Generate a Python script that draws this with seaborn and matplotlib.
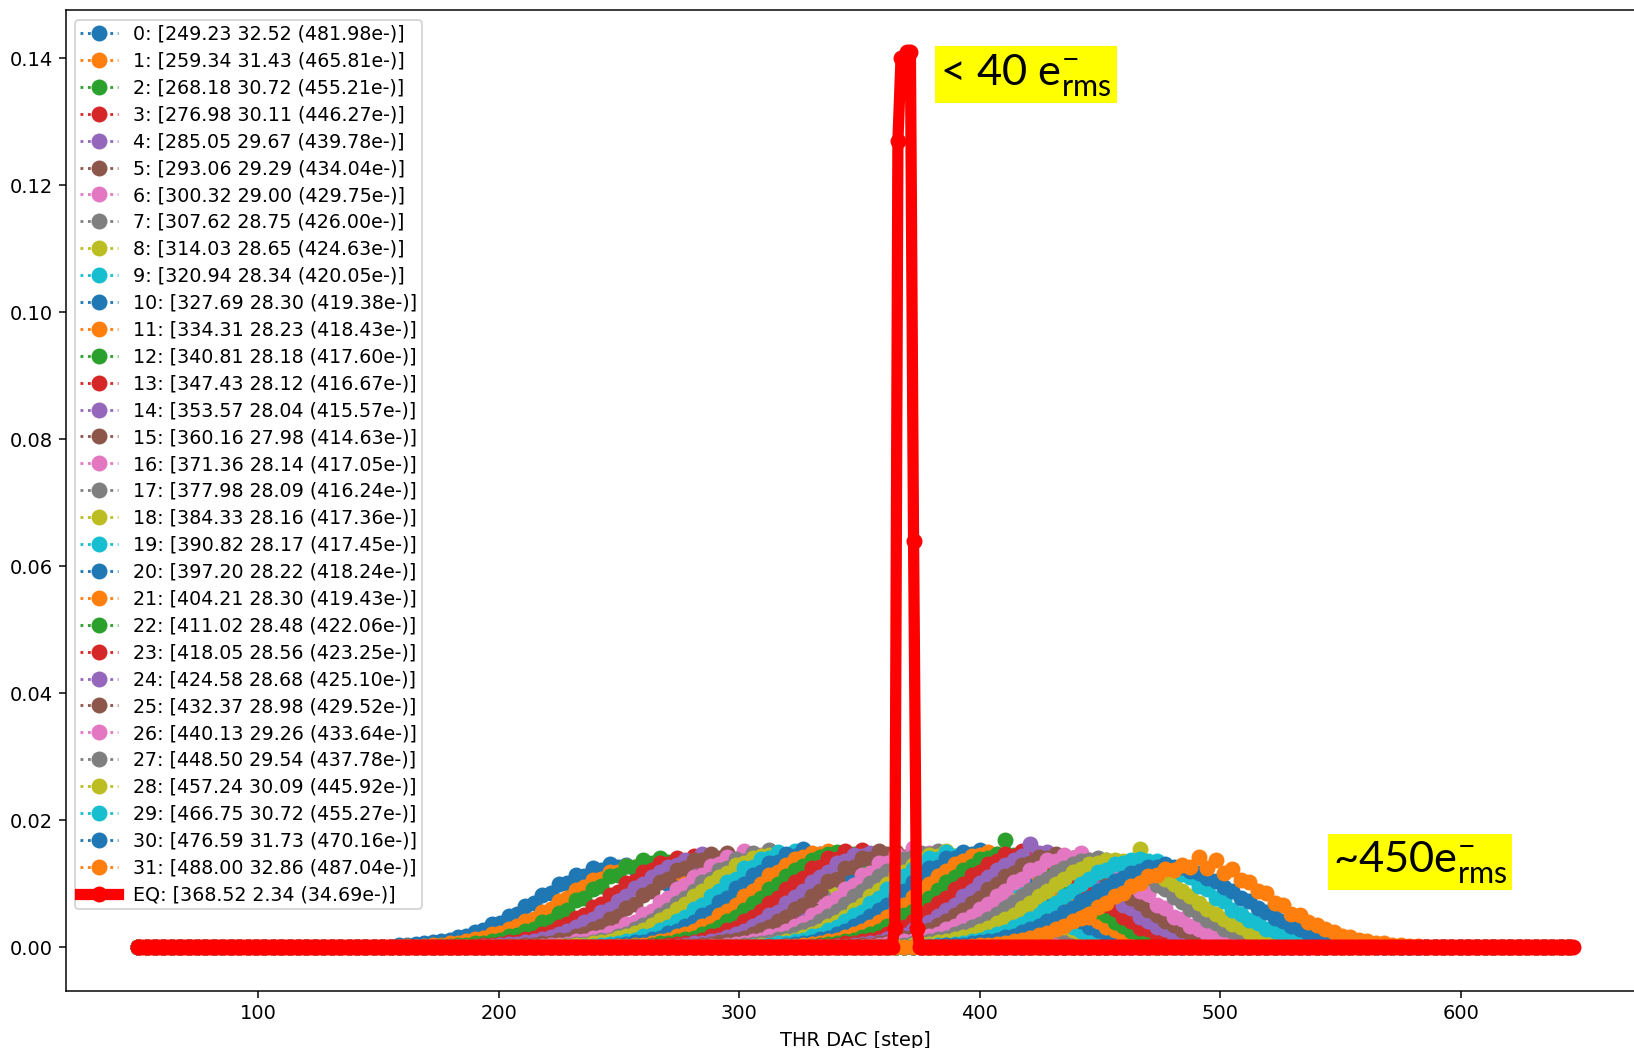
import numpy as np
import matplotlib
matplotlib.use("Agg")
import matplotlib.pyplot as plt
import seaborn as sns

# THR DAC sampling of the per-trim threshold histograms and of the equalised one
trim_dac = np.round(50.0 + 3.5 * np.arange(171), 2)
eq_dac = np.round(50.0 + 1.3 * np.arange(460), 2)

# Fit results per trim setting: mean [step], sigma [step], sigma [e-]
trim_mean = [249.23, 259.34, 268.18, 276.98, 285.05, 293.06, 300.32, 307.62,
             314.03, 320.94, 327.69, 334.31, 340.81, 347.43, 353.57, 360.16,
             371.36, 377.98, 384.33, 390.82, 397.20, 404.21, 411.02, 418.05,
             424.58, 432.37, 440.13, 448.50, 457.24, 466.75, 476.59, 488.00]
trim_sigma = [32.52, 31.43, 30.72, 30.11, 29.67, 29.29, 29.00, 28.75,
              28.65, 28.34, 28.30, 28.23, 28.18, 28.12, 28.04, 27.98,
              28.14, 28.09, 28.16, 28.17, 28.22, 28.30, 28.48, 28.56,
              28.68, 28.98, 29.26, 29.54, 30.09, 30.72, 31.73, 32.86]
trim_noise_e = [481.98, 465.81, 455.21, 446.27, 439.78, 434.04, 429.75, 426.00,
                424.63, 420.05, 419.38, 418.43, 417.60, 416.67, 415.57, 414.63,
                417.05, 416.24, 417.36, 417.45, 418.24, 419.43, 422.06, 423.25,
                425.10, 429.52, 433.64, 437.78, 445.92, 455.27, 470.16, 487.04]

# index of the first non-empty bin of each trim histogram
trim_first_bin = [29, 32, 36, 39, 41, 44, 47, 49, 50, 53, 55, 57, 59, 61, 63, 65,
                  68, 70, 72, 73, 75, 77, 79, 81, 83, 84, 86, 88, 90, 93, 94, 97]

# normalised bin contents (units of 1e-4) from trim_first_bin on; all other bins are empty
trim00 = [1, 1, 3, 3, 5, 6, 8, 10, 11, 16, 18, 24, 27, 36, 38, 49, 52, 65, 69, 82, 86, 99, 101, 113, 112, 124, 122, 131, 126, 130, 123, 125, 113, 112, 100, 97, 85, 81, 68, 63, 52, 49, 38, 35, 27, 24, 18, 16, 11, 10, 6, 7, 3, 4, 2, 1, 1]
trim01 = [2, 1, 2, 4, 4, 7, 6, 10, 13, 14, 20, 22, 29, 33, 42, 45, 56, 60, 73, 77, 90, 94, 106, 108, 119, 118, 128, 126, 133, 124, 127, 119, 118, 107, 105, 94, 90, 77, 73, 60, 56, 45, 41, 33, 29, 22, 20, 14, 13, 8, 7, 5, 4, 2, 2, 1, 1]
trim02 = [2, 2, 3, 4, 6, 6, 10, 11, 17, 19, 26, 29, 39, 42, 54, 59, 74, 78, 92, 96, 112, 114, 128, 126, 137, 133, 141, 134, 136, 126, 128, 114, 111, 97, 93, 78, 73, 60, 54, 43, 38, 29, 26, 19, 17, 11, 10, 7, 5, 3, 3, 2, 1]
trim03 = [1, 2, 4, 4, 5, 8, 8, 13, 15, 21, 24, 32, 36, 46, 51, 63, 68, 82, 87, 101, 104, 119, 121, 133, 131, 140, 136, 143, 131, 133, 120, 119, 104, 102, 88, 84, 70, 64, 54, 46, 38, 31, 24, 21, 15, 12, 8, 7, 5, 4, 2, 2, 1]
trim04 = [2, 2, 3, 5, 5, 8, 9, 13, 16, 21, 26, 31, 39, 44, 55, 60, 73, 81, 93, 99, 111, 118, 127, 129, 138, 135, 146, 136, 139, 128, 126, 116, 109, 98, 91, 79, 72, 60, 53, 44, 36, 31, 24, 19, 16, 12, 9, 6, 5, 4, 2, 2, 1]
trim05 = [2, 2, 3, 4, 6, 7, 11, 12, 18, 21, 29, 33, 44, 49, 61, 68, 82, 88, 102, 108, 122, 125, 138, 137, 146, 141, 149, 138, 139, 126, 123, 108, 104, 88, 83, 68, 62, 49, 43, 33, 29, 21, 18, 12, 11, 7, 6, 4, 3, 2, 1]
trim06 = [1, 2, 4, 4, 5, 9, 9, 14, 16, 23, 26, 36, 40, 52, 57, 71, 77, 92, 98, 111, 114, 128, 131, 142, 139, 151, 140, 145, 133, 134, 117, 116, 98, 96, 80, 75, 60, 56, 43, 39, 29, 26, 18, 15, 11, 9, 6, 5, 3, 2, 2]
trim07 = [2, 1, 3, 5, 5, 8, 11, 12, 17, 21, 28, 35, 41, 51, 58, 70, 78, 89, 102, 108, 121, 124, 139, 136, 148, 142, 153, 141, 141, 128, 127, 111, 108, 91, 86, 71, 65, 52, 45, 36, 29, 22, 19, 13, 10, 8, 5, 4, 3, 2, 1]
trim08 = [2, 2, 3, 4, 7, 8, 10, 14, 17, 23, 27, 35, 43, 49, 60, 68, 81, 88, 101, 111, 117, 129, 133, 141, 143, 145, 147, 137, 136, 125, 121, 109, 101, 92, 78, 70, 58, 51, 41, 35, 27, 23, 16, 14, 9, 8, 6, 4, 3, 2, 2]
trim09 = [2, 2, 4, 5, 6, 10, 11, 17, 19, 27, 31, 41, 48, 60, 66, 81, 88, 103, 108, 124, 127, 139, 141, 150, 145, 151, 140, 140, 127, 124, 108, 104, 88, 82, 67, 60, 47, 42, 31, 28, 19, 17, 11, 10, 6, 5, 3, 2, 2]
trim10 = [1, 2, 3, 5, 8, 8, 13, 15, 22, 25, 34, 39, 51, 56, 71, 77, 93, 99, 114, 118, 133, 134, 147, 144, 155, 143, 147, 133, 132, 117, 113, 98, 92, 76, 71, 56, 51, 39, 34, 24, 22, 15, 13, 8, 8, 4, 4, 2, 1]
trim11 = [2, 2, 4, 4, 7, 10, 11, 17, 20, 25, 33, 38, 50, 57, 66, 80, 88, 99, 113, 119, 129, 139, 142, 149, 146, 152, 141, 141, 128, 125, 109, 105, 89, 83, 67, 62, 47, 43, 30, 28, 19, 17, 11, 9, 7, 5, 3, 2, 2]
trim12 = [2, 1, 3, 6, 6, 9, 13, 15, 21, 26, 31, 42, 47, 59, 69, 78, 92, 100, 112, 122, 128, 138, 142, 146, 150, 144, 146, 135, 131, 119, 113, 100, 91, 79, 68, 57, 50, 39, 33, 25, 20, 15, 12, 9, 7, 5, 4, 2, 2]
trim13 = [2, 2, 4, 5, 7, 8, 12, 17, 19, 27, 30, 41, 48, 57, 70, 77, 91, 102, 109, 124, 127, 141, 139, 151, 143, 153, 139, 142, 125, 126, 107, 106, 86, 84, 65, 62, 46, 43, 30, 29, 18, 18, 11, 10, 6, 5, 3, 3, 1]
trim14 = [1, 2, 4, 6, 6, 10, 11, 16, 21, 25, 33, 39, 50, 56, 69, 79, 88, 103, 110, 119, 132, 135, 145, 144, 149, 148, 141, 139, 128, 123, 112, 100, 92, 78, 70, 56, 50, 38, 34, 24, 22, 14, 13, 9, 6, 5, 3, 2, 2]
trim15 = [2, 2, 3, 5, 8, 9, 12, 15, 21, 27, 31, 42, 47, 60, 67, 81, 88, 104, 108, 125, 126, 141, 139, 152, 146, 150, 142, 138, 131, 120, 114, 99, 93, 77, 71, 55, 51, 37, 34, 24, 21, 15, 12, 10, 6, 5, 4, 2, 1]
trim16 = [2, 1, 4, 5, 6, 10, 11, 17, 19, 26, 33, 38, 51, 56, 70, 78, 92, 98, 114, 117, 133, 133, 146, 141, 156, 143, 148, 133, 133, 118, 114, 97, 93, 76, 71, 55, 52, 38, 35, 24, 22, 14, 13, 8, 8, 4, 4, 2, 2]
trim17 = [2, 2, 3, 5, 7, 8, 13, 15, 20, 27, 31, 41, 49, 57, 68, 80, 89, 101, 112, 120, 128, 139, 142, 148, 147, 151, 141, 140, 127, 125, 108, 105, 88, 83, 66, 61, 47, 42, 31, 27, 20, 17, 11, 10, 7, 4, 4, 2, 1]
trim18 = [1, 2, 4, 4, 7, 9, 12, 16, 20, 25, 34, 39, 48, 59, 66, 80, 90, 100, 113, 119, 130, 136, 145, 143, 152, 144, 147, 135, 130, 122, 110, 103, 89, 81, 69, 58, 50, 40, 32, 27, 20, 16, 12, 9, 7, 5, 4, 2, 2]
trim19 = [2, 2, 3, 6, 6, 10, 11, 17, 19, 27, 31, 41, 50, 56, 70, 77, 92, 99, 112, 123, 127, 140, 139, 150, 144, 149, 143, 138, 132, 119, 115, 98, 94, 77, 70, 57, 50, 39, 32, 26, 20, 16, 12, 9, 7, 5, 3, 3, 1]
trim20 = [2, 1, 4, 5, 7, 8, 13, 15, 21, 25, 33, 39, 49, 58, 67, 80, 88, 103, 108, 124, 126, 141, 140, 150, 146, 153, 139, 142, 127, 125, 108, 105, 89, 81, 69, 59, 48, 41, 31, 27, 21, 15, 13, 8, 7, 5, 4, 2, 2]
trim21 = [2, 2, 3, 5, 6, 10, 11, 16, 20, 26, 32, 40, 48, 59, 67, 79, 91, 100, 112, 120, 131, 136, 144, 145, 150, 147, 142, 138, 129, 123, 110, 102, 90, 80, 68, 59, 48, 41, 31, 27, 19, 17, 11, 10, 6, 5, 4, 2, 1]
trim22 = [1, 2, 4, 5, 7, 9, 12, 16, 21, 25, 33, 39, 50, 57, 69, 78, 90, 102, 110, 122, 128, 139, 141, 146, 168, 145, 147, 136, 131, 120, 113, 100, 91, 79, 69, 57, 50, 39, 33, 25, 21, 16, 12, 9, 7, 5, 3, 2, 2]
trim23 = [2, 2, 3, 6, 6, 10, 12, 15, 21, 26, 32, 41, 48, 58, 69, 78, 92, 99, 113, 119, 131, 135, 146, 143, 151, 145, 146, 136, 131, 119, 112, 101, 89, 80, 67, 60, 47, 42, 30, 28, 19, 17, 11, 10, 6, 5, 3, 2, 2]
trim24 = [2, 1, 4, 5, 7, 8, 13, 16, 19, 27, 31, 40, 49, 58, 67, 80, 89, 101, 111, 121, 129, 138, 143, 163, 148, 150, 141, 139, 128, 124, 109, 104, 88, 82, 67, 61, 47, 42, 31, 28, 19, 17, 11, 10, 6, 5, 3, 2, 2]
trim25 = [2, 2, 3, 4, 6, 8, 10, 14, 16, 23, 27, 35, 42, 51, 58, 70, 78, 91, 99, 112, 117, 129, 132, 142, 140, 147, 143, 141, 135, 128, 120, 111, 99, 91, 78, 70, 58, 51, 41, 35, 27, 22, 17, 13, 10, 8, 6, 4, 3, 2, 2]
trim26 = [1, 2, 3, 5, 5, 9, 9, 14, 17, 21, 29, 33, 43, 49, 60, 68, 81, 88, 102, 108, 121, 124, 137, 136, 145, 141, 148, 137, 139, 125, 123, 108, 104, 88, 83, 67, 62, 48, 44, 33, 29, 21, 18, 13, 10, 8, 6, 4, 3, 2, 1]
trim27 = [2, 2, 3, 4, 6, 7, 9, 13, 15, 21, 25, 31, 36, 45, 52, 62, 71, 81, 90, 101, 107, 118, 124, 131, 135, 138, 141, 137, 136, 129, 125, 116, 109, 98, 91, 79, 71, 60, 53, 43, 38, 29, 26, 19, 17, 11, 10, 6, 5, 4, 2, 2, 1]
trim28 = [2, 1, 3, 5, 5, 8, 9, 13, 16, 19, 26, 30, 38, 44, 51, 62, 70, 81, 89, 100, 107, 118, 123, 131, 133, 138, 137, 136, 132, 155, 123, 118, 107, 100, 89, 81, 70, 60, 52, 45, 36, 31, 24, 20, 15, 12, 9, 7, 5, 4, 2, 2, 1]
trim29 = [2, 2, 3, 4, 5, 7, 10, 12, 16, 21, 24, 31, 36, 45, 51, 62, 70, 81, 88, 100, 107, 118, 122, 131, 133, 137, 139, 135, 135, 128, 125, 115, 110, 97, 92, 78, 72, 59, 53, 43, 38, 29, 26, 19, 17, 11, 10, 7, 5, 4, 3, 2, 1]
trim30 = [1, 2, 3, 3, 4, 6, 8, 9, 12, 16, 18, 24, 28, 34, 41, 46, 55, 61, 72, 78, 89, 95, 104, 109, 117, 120, 126, 126, 131, 126, 126, 120, 117, 109, 104, 95, 89, 78, 72, 61, 55, 46, 41, 34, 28, 23, 20, 14, 13, 9, 7, 6, 4, 3, 2, 2, 1]
trim31 = [1, 1, 2, 3, 4, 5, 7, 10, 11, 15, 19, 22, 28, 33, 41, 46, 53, 63, 69, 80, 86, 97, 101, 112, 113, 123, 121, 130, 127, 142, 124, 138, 117, 123, 106, 103, 89, 86, 70, 67, 53, 50, 39, 35, 28, 24, 18, 16, 12, 10, 7, 6, 4, 3, 2, 2, 1]

trim_counts = [trim00, trim01, trim02, trim03, trim04, trim05, trim06, trim07,
               trim08, trim09, trim10, trim11, trim12, trim13, trim14, trim15,
               trim16, trim17, trim18, trim19, trim20, trim21, trim22, trim23,
               trim24, trim25, trim26, trim27, trim28, trim29, trim30, trim31]

# Equalised matrix
eq_mean, eq_sigma, eq_noise_e = 368.52, 2.34, 34.69
eq_first_bin = 242
eq_counts = [0.003, 0.127, 0.140, 0.140, 0.141, 0.141, 0.064, 0.003]

plt.rcParams["font.size"] = 10.4
plt.rcParams["legend.fontsize"] = 10.15
plt.rcParams["legend.labelspacing"] = 0.415
plt.rcParams["legend.borderpad"] = 0.25

W, H, DPI = 1634, 1048, 135
fig = plt.figure(figsize=(W / DPI, H / DPI), dpi=DPI)
ax = fig.add_axes([65.7 / W, 57.0 / H, 1580.0 / W, 980.6 / H])

palette = sns.color_palette("tab10")
for i, counts in enumerate(trim_counts):
    y = np.zeros(len(trim_dac))
    start = trim_first_bin[i]
    y[start:start + len(counts)] = np.asarray(counts) * 1e-4
    col = palette[i % 10]
    sns.lineplot(x=trim_dac, y=y, ax=ax, color=col, linestyle=":", linewidth=1.5,
                 marker="o", markersize=7.5, markeredgecolor=col, markeredgewidth=1,
                 errorbar=None,
                 label=f"{i}: [{trim_mean[i]:.2f} {trim_sigma[i]:.2f} ({trim_noise_e[i]:.2f}e-)]")

eq_y = np.zeros(len(eq_dac))
eq_y[eq_first_bin:eq_first_bin + len(eq_counts)] = eq_counts
sns.lineplot(x=eq_dac, y=eq_y, ax=ax, color="red", linestyle="-", linewidth=6,
             marker="o", markersize=7.5, markeredgecolor="red", markeredgewidth=1,
             errorbar=None,
             label=f"EQ: [{eq_mean:.2f} {eq_sigma:.2f} ({eq_noise_e:.2f}e-)]")

ax.set_xlim(19.9, 676.8)
ax.set_ylim(-0.0069, 0.1475)
ax.set_xlabel("THR DAC [step]")
ax.set_ylabel("")
ax.legend(loc="upper left")

# Highlighted noise figures
plt.rcParams["mathtext.fontset"] = "custom"
plt.rcParams["mathtext.rm"] = "Lato"
plt.rcParams["mathtext.it"] = "Lato:italic"
plt.rcParams["mathtext.bf"] = "Lato:bold"
box = dict(boxstyle="square,pad=0.12", facecolor="#ffff00", edgecolor="none")
fig.text(940.5 / W, 1 - 51.5 / H, r"< 40 e$^{-}_{\mathrm{rms}}$", ha="left", va="top",
         fontsize=23.2, family="Lato", color="black", bbox=box)
fig.text(1333 / W, 1 - 839 / H, r"~450e$^{-}_{\mathrm{rms}}$", ha="left", va="top",
         fontsize=23.2, family="Lato", color="black", bbox=box)

fig.savefig("out.png", dpi=DPI)
